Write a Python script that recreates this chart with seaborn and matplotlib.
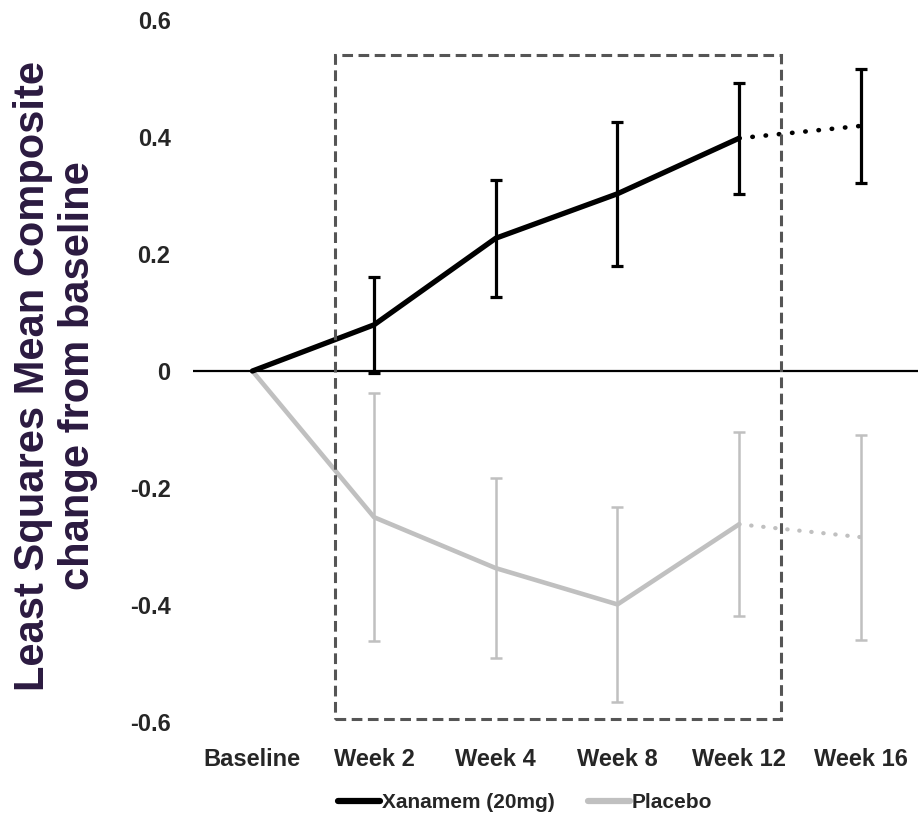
import pandas as pd
import numpy as np
import matplotlib
matplotlib.use("Agg")
import matplotlib.pyplot as plt
import seaborn as sns
from matplotlib.lines import Line2D
from matplotlib.patches import Rectangle

# === Data === #
visits = ["Baseline", "Week 2", "Week 4", "Week 8", "Week 12", "Week 16"]
xanamem_mean = [0.0, 0.079, 0.227, 0.303, 0.398, 0.419]
xanamem_err = [np.nan, 0.082, 0.100, 0.123, 0.095, 0.097]
placebo_mean = [0.0, -0.250, -0.337, -0.399, -0.262, -0.284]
placebo_err = [np.nan, 0.212, 0.154, 0.167, 0.157, 0.175]
y_ticks = [0.6, 0.4, 0.2, 0.0, -0.2, -0.4, -0.6]
y_tick_labels = ["0.6", "0.4", "0.2", "0", "-0.2", "-0.4", "-0.6"]

sns.set_style("white")
plt.rcParams["font.family"] = ["Liberation Sans", "DejaVu Sans"]
plt.rcParams["font.weight"] = "bold"

df = pd.DataFrame({
    "visit": visits,
    "x": range(len(visits)),
    "xanamem": xanamem_mean,
    "placebo": placebo_mean,
})
solid = df[df["visit"] != "Week 16"]
dotted = df[df["visit"].isin(["Week 12", "Week 16"])]

BLACK = "#000000"
GREY = "#c0c0c0"
DOTS = (0, (0.1, 2.8))

fig = plt.figure(figsize=(9.18, 8.21), dpi=100)
ax = fig.add_axes([0.210, 0.1206, 0.79, 0.855])

# === Placebo === #
ax.errorbar(df["x"], df["placebo"], yerr=placebo_err, fmt="none",
            ecolor=GREY, elinewidth=1.8, capsize=4.5, capthick=1.8, zorder=2)
sns.lineplot(data=solid, x="x", y="placebo", color=GREY, linewidth=3.3,
             ax=ax, zorder=3, solid_capstyle="round")
sns.lineplot(data=dotted, x="x", y="placebo", color=GREY, linewidth=3.0,
             linestyle=DOTS, dash_capstyle="round", ax=ax, zorder=3)

# === Xanamem === #
ax.errorbar(df["x"], df["xanamem"], yerr=xanamem_err, fmt="none",
            ecolor=BLACK, elinewidth=2.3, capsize=4.5, capthick=2.3, zorder=4)
sns.lineplot(data=solid, x="x", y="xanamem", color=BLACK, linewidth=3.8,
             ax=ax, zorder=5, solid_capstyle="round")
sns.lineplot(data=dotted, x="x", y="xanamem", color=BLACK, linewidth=3.3,
             linestyle=DOTS, dash_capstyle="round", ax=ax, zorder=5)

# zero line
ax.axhline(0, color=BLACK, linewidth=1.6, zorder=1)

# dashed box around Week 2 - Week 12
box = Rectangle((0.68, -0.595), 4.34 - 0.68, 0.540 + 0.595, fill=False,
                edgecolor="#555555", linewidth=2.2, linestyle=(0, (3.5, 1.8)),
                zorder=6, clip_on=False)
ax.add_patch(box)

ax.set_xlim(-0.49, 5.47)
ax.set_ylim(-0.6, 0.6)
ax.set_xticks(range(len(visits)))
ax.set_xticklabels(visits, fontsize=17, fontweight="bold")
ax.set_yticks(y_ticks)
ax.set_yticklabels(y_tick_labels, fontsize=17, fontweight="bold")
ax.tick_params(axis="x", length=0, pad=19)
ax.tick_params(axis="y", length=0, pad=16)
for s in ax.spines.values():
    s.set_visible(False)
ax.set_xlabel("")
ax.set_ylabel("Least Squares Mean Composite\nchange from baseline",
              fontsize=30, fontweight="bold", color="#2b1a40",
              linespacing=1.15)
ax.yaxis.set_label_coords(-0.131, 0.493)

handles = [Line2D([0], [0], color=BLACK, linewidth=4.5, solid_capstyle="round"),
           Line2D([0], [0], color=GREY, linewidth=4.5, solid_capstyle="round")]
fig.legend(handles, ["Xanamem (20mg)", "Placebo"], loc="center",
           bbox_to_anchor=(0.572, 0.022), ncol=2, frameon=False,
           handlelength=2.0, handletextpad=0.1, columnspacing=1.6,
           prop={"size": 15, "weight": "bold"})

fig.savefig("out.png", dpi=100)
plt.close(fig)
